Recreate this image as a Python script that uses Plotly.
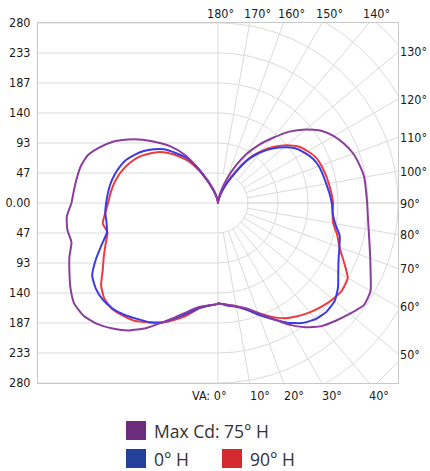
import numpy as np
import plotly.graph_objects as go

# ---------------- data (candela vs vertical angle) ----------------
ANGLES = [0, 5, 10, 15, 20, 25, 30, 35, 40, 45, 50, 55, 60, 65, 70, 75, 80, 85, 90,
          95, 100, 105, 110, 115, 120, 125, 130, 135, 140, 145, 150, 155, 160, 165, 170, 175, 180]

MAX75_RIGHT = [156, 159, 163, 170, 182, 198, 218, 236, 250, 259, 268, 277, 274, 262, 252, 244, 238, 234, 232,
               231, 231, 228, 224, 217, 208, 196, 178, 157, 132, 110, 87, 62, 39, 22, 10, 3, 0]
MAX75_LEFT = [157, 160, 164, 174, 188, 205, 225, 242, 255, 266, 273, 273, 265, 255, 246, 236, 238, 236, 228,
              225, 223, 221, 216, 204, 190, 172, 153, 133, 115, 93, 64, 40, 25, 14, 6, 2, 0]

H0_RIGHT = [156, 160, 164, 172, 185, 199, 215, 228, 236, 239, 237, 228, 216, 207, 201, 196, 185, 179, 177,
            174, 171, 169, 167, 163, 156, 148, 135, 120, 103, 83, 56, 36, 22, 12, 5, 2, 0]
H0_LEFT = [157, 160, 166, 177, 190, 205, 214, 220, 227, 232, 234, 232, 226, 210, 193, 179, 176, 176, 174,
           172, 170, 167, 163, 158, 150, 141, 130, 118, 101, 86, 62, 38, 22, 12, 5, 2, 0]

H90_RIGHT = [156, 159, 163, 170, 182, 195, 207, 215, 222, 228, 233, 236, 233, 216, 201, 192, 182, 179, 179,
             177, 175, 173, 171, 168, 161, 153, 140, 124, 106, 86, 60, 38, 23, 12, 5, 2, 0]
H90_LEFT = [157, 160, 166, 180, 193, 205, 214, 224, 229, 233, 231, 222, 207, 196, 186, 178, 182, 176, 171,
            168, 165, 161, 156, 150, 143, 133, 123, 110, 95, 79, 58, 36, 21, 11, 5, 2, 0]

RMAX = 280.0
CD_TICKS = [280, 233.33, 186.67, 140, 93.33, 46.67, 0, -46.67, -93.33, -140, -186.67, -233.33, -280]
CD_TICK_TEXT = ["280", "233", "187", "140", "93", "47", "0.00", "47", "93", "140", "187", "233", "280"]
GRID_STEP = 280 / 6.0
TOP_ANGLES = [180, 170, 160, 150, 140]
RIGHT_ANGLES = [130, 120, 110, 100, 90, 80, 70, 60, 50]
BOTTOM_ANGLES = [0, 10, 20, 30, 40]

SERIES = [
    ("90° H", H90_LEFT, H90_RIGHT, "#f03a3a"),
    ("0° H", H0_LEFT, H0_RIGHT, "#3a3ae8"),
    ("Max Cd: 75° H", MAX75_LEFT, MAX75_RIGHT, "#8a3d9c"),
]
LEGEND = [("Max Cd: 75° H", "#6b2c7b"), ("0° H", "#25409a"), ("90° H", "#d4292e")]

GRID = "#dadada"
AX_FONT = dict(family="DejaVu Sans Condensed, DejaVu Sans", size=12.5, color="#1a1a1a")

fig = go.Figure()

def add_line(xs, ys, color=GRID, width=1):
    fig.add_trace(go.Scatter(x=xs, y=ys, mode="lines", line=dict(color=color, width=width),
                             hoverinfo="skip", showlegend=False))

# left half: horizontal grid lines
for v in CD_TICKS:
    add_line([-RMAX, 0 if v != 0 else RMAX], [v, v])
# vertical center line
add_line([0, 0], [-RMAX, RMAX])
# right half: arcs
th = np.radians(np.linspace(0, 180, 181))
for k in range(1, 9):
    r = GRID_STEP * k
    add_line(list(r * np.sin(th)), list(-r * np.cos(th)))
# right half: radial lines every 10 degrees
for a in range(10, 180, 10):
    t = np.radians(a)
    add_line([GRID_STEP * np.sin(t), 420 * np.sin(t)], [-GRID_STEP * np.cos(t), -420 * np.cos(t)])

# photometric curves
ang = np.radians(np.array(ANGLES, dtype=float))
for name, left, right, color in SERIES:
    L = np.array(left, dtype=float)
    R = np.array(right, dtype=float)
    xs = list(-(L * np.sin(ang))[::-1]) + list(R * np.sin(ang))
    ys = list((-L * np.cos(ang))[::-1]) + list(-R * np.cos(ang))
    fig.add_trace(go.Scatter(x=xs, y=ys, mode="lines", name=name,
                             line=dict(color=color, width=2, shape="spline", smoothing=0.5),
                             hoverinfo="skip", showlegend=False))

ann = []
for a in TOP_ANGLES:
    xh = RMAX * np.tan(np.radians(180 - a))
    ann.append(dict(x=xh, y=RMAX, xref="x", yref="y", text=f"{a}°", showarrow=False,
                    xanchor="left", yanchor="bottom", xshift=-13 if a == 180 else -8, yshift=0, font=AX_FONT))
for a in RIGHT_ANGLES:
    yh = -RMAX / np.tan(np.radians(a))
    ann.append(dict(x=RMAX, y=yh, xref="x", yref="y", text=f"{a}°", showarrow=False,
                    xanchor="left", yanchor="middle", xshift=0, font=AX_FONT))
for a in BOTTOM_ANGLES:
    xh = RMAX * np.tan(np.radians(a))
    if a == 0:
        ann.append(dict(x=0, y=-RMAX, xref="x", yref="y", text="VA: 0°", showarrow=False,
                        xanchor="right", yanchor="top", xshift=11, yshift=-3, font=AX_FONT))
    else:
        ann.append(dict(x=xh, y=-RMAX, xref="x", yref="y", text=f"{a}°", showarrow=False,
                        xanchor="left", yanchor="top", xshift=-2, yshift=-3, font=AX_FONT))

# custom legend (pixel placement converted to paper)
L_MARGIN, T_MARGIN, PW, PH = 38, 23, 360, 360
def px(x):
    return (x - L_MARGIN) / PW
def py(y):
    return (T_MARGIN + PH - y) / PH

shapes = []
leg_pos = [(126, 421), (126, 449), (222, 449)]
LEG_FONT = dict(family="Open Sans, Noto Sans", size=17.5, color="#333333")
for (label, color), (x0, y0) in zip(LEGEND, leg_pos):
    shapes.append(dict(type="rect", xref="paper", yref="paper", x0=px(x0), x1=px(x0 + 20),
                       y0=py(y0 + 19), y1=py(y0), fillcolor=color, line=dict(width=0)))
    ann.append(dict(x=px(x0 + 26), y=py(y0 + 9.5), xref="paper", yref="paper", text=label,
                    showarrow=False, xanchor="left", yanchor="middle", font=LEG_FONT))

fig.update_layout(
    width=430, height=471,
    margin=dict(l=L_MARGIN, r=430 - L_MARGIN - PW, t=T_MARGIN, b=471 - T_MARGIN - PH, autoexpand=False),
    paper_bgcolor="white", plot_bgcolor="white",
    annotations=ann, shapes=shapes, showlegend=False,
    xaxis=dict(range=[-RMAX, RMAX], showgrid=False, zeroline=False, showticklabels=False,
               showline=True, mirror=True, linecolor="#c8c8c8", linewidth=1, fixedrange=True,
               automargin=False),
    yaxis=dict(range=[-RMAX, RMAX], showgrid=False, zeroline=False, tickmode="array",
               tickvals=CD_TICKS, ticktext=CD_TICK_TEXT, tickfont=AX_FONT, ticks="",
               ticklabelstandoff=4, showline=True, mirror=True, linecolor="#c8c8c8",
               linewidth=1, fixedrange=True, automargin=False),
)

fig.write_html("out.html", config={"displayModeBar": False},
               post_script="document.body.style.margin='0';document.body.style.overflow='hidden';")
